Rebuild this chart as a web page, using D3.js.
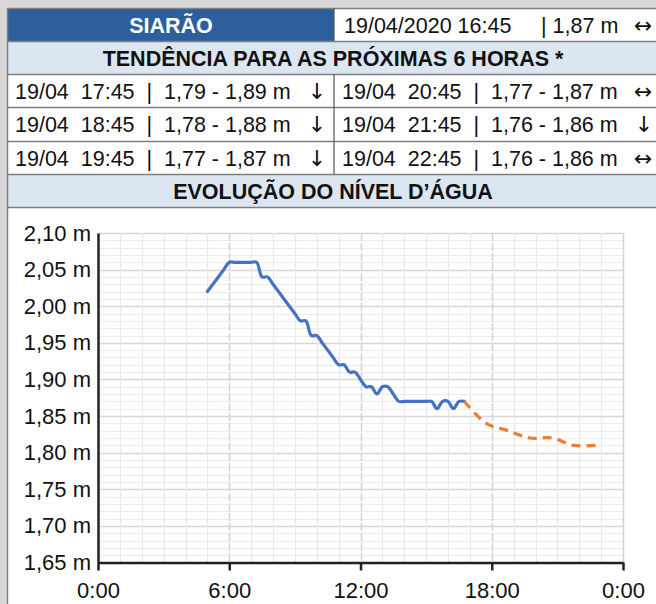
<!DOCTYPE html>
<html><head><meta charset="utf-8">
<script src="https://cdn.jsdelivr.net/npm/d3@7"></script>
<style>
html,body{margin:0;padding:0;background:#d9d9d9;}
svg{display:block;font-family:"Liberation Sans",Arial,sans-serif;}
</style></head>
<body>
<svg id="c" width="656" height="604"></svg>
<script>
// ---- data ----
const station = "SIARÃO";
const currentReading = ["19/04/2020 16:45", "| 1,87 m", "↔"];
const forecastTitle = "TENDÊNCIA PARA AS PRÓXIMAS 6 HORAS *";
const chartTitle = "EVOLUÇÃO DO NÍVEL D’ÁGUA";
const forecastLeft = [
  ["19/04", "17:45", "1,79 - 1,89 m", "↓"],
  ["19/04", "18:45", "1,78 - 1,88 m", "↓"],
  ["19/04", "19:45", "1,77 - 1,87 m", "↓"]
];
const forecastRight = [
  ["19/04", "20:45", "1,77 - 1,87 m", "↔"],
  ["19/04", "21:45", "1,76 - 1,86 m", "↓"],
  ["19/04", "22:45", "1,76 - 1,86 m", "↔"]
];
const obsTimes = ["05:00","05:15","05:30","05:45","06:00","06:15","06:30","06:45",
  "07:00","07:15","07:30","07:45","08:00","08:15","08:30","08:45",
  "09:00","09:15","09:30","09:45","10:00","10:15","10:30","10:45",
  "11:00","11:15","11:30","11:45","12:00","12:15","12:30","12:45",
  "13:00","13:15","13:30","13:45","14:00","14:15","14:30","14:45",
  "15:00","15:15","15:30","15:45","16:00","16:15","16:30","16:45"];
const obsLevels = [2.02,2.03,2.04,2.05,2.06,2.06,2.06,2.06,
  2.06,2.06,2.04,2.04,2.03,2.02,2.01,2.00,
  1.99,1.98,1.98,1.96,1.96,1.95,1.94,1.93,
  1.92,1.92,1.91,1.91,1.90,1.89,1.89,1.88,
  1.89,1.89,1.88,1.87,1.87,1.87,1.87,1.87,
  1.87,1.87,1.86,1.87,1.87,1.86,1.87,1.87];
const fcTimes = ["16:45","17:45","18:45","19:45","20:45","21:45","22:45"];
const fcLevels = [1.87,1.84,1.83,1.82,1.82,1.81,1.81];
const yTicks = [1.65,1.70,1.75,1.80,1.85,1.90,1.95,2.00,2.05,2.10];
const xTickHours = [0,6,12,18,24];
const xTickLabels = ["0:00","6:00","12:00","18:00","0:00"];

// ---- layout ----
const svg = d3.select("#c");
const W = 656, H = 604;
const tableX = 8, splitX = 334, tableR = 664;
const rows = [8, 41, 74, 107, 141, 174, 207];
const borderC = "#7f7f7f";
const hdrBlue = "#2c5f9c", lightBlue = "#dce6f1";
const FS = 21.5;

svg.append("rect").attr("width", W).attr("height", H).attr("fill", "#d9d9d9");

// table cells
svg.append("rect").attr("x", tableX).attr("y", rows[0]).attr("width", splitX - tableX).attr("height", rows[1]-rows[0]).attr("fill", hdrBlue);
svg.append("rect").attr("x", splitX).attr("y", rows[0]).attr("width", tableR - splitX).attr("height", rows[1]-rows[0]).attr("fill", "#fff");
svg.append("rect").attr("x", tableX).attr("y", rows[1]).attr("width", tableR - tableX).attr("height", rows[2]-rows[1]).attr("fill", lightBlue);
svg.append("rect").attr("x", tableX).attr("y", rows[2]).attr("width", tableR - tableX).attr("height", rows[5]-rows[2]).attr("fill", "#fff");
svg.append("rect").attr("x", tableX).attr("y", rows[5]).attr("width", tableR - tableX).attr("height", rows[6]-rows[5]).attr("fill", lightBlue);
svg.append("rect").attr("x", tableX).attr("y", rows[6]).attr("width", tableR - tableX).attr("height", H - rows[6]).attr("fill", "#fff");

// borders
rows.forEach(r => svg.append("line").attr("x1", tableX).attr("x2", tableR).attr("y1", r+0.5).attr("y2", r+0.5).attr("stroke", borderC).attr("stroke-width", 1.5));
svg.append("line").attr("x1", tableX-0.5).attr("x2", tableX-0.5).attr("y1", rows[0]).attr("y2", H).attr("stroke", borderC).attr("stroke-width", 1.5);
[[rows[0], rows[1]], [rows[2], rows[5]]].forEach(([a,b]) =>
  svg.append("line").attr("x1", splitX).attr("x2", splitX).attr("y1", a).attr("y2", b).attr("stroke", "#555").attr("stroke-width", 1.2));

const txt = (x, y, s, opts={}) => svg.append("text").attr("x", x).attr("y", y)
  .attr("font-size", opts.size || FS).attr("font-weight", opts.bold ? "bold" : "normal")
  .attr("font-family", opts.family || null)
  .attr("fill", opts.fill || "#111").attr("text-anchor", opts.anchor || "start")
  .attr("xml:space", "preserve").style("white-space", "pre").text(s);
const arrow = (x, y, s) => txt(x, y, s, {anchor: "middle", family: "DejaVu Sans", size: 22});

const base = i => (rows[i] + rows[i+1]) / 2 + 8;
txt((tableX + splitX)/2, base(0), station, {bold: true, fill: "#fff", anchor: "middle"});
txt(344, base(0), currentReading[0]);
txt(541, base(0), currentReading[1]);
arrow(643, base(0), currentReading[2]);
txt(333, base(1), forecastTitle, {bold: true, anchor: "middle"});
forecastLeft.forEach((r, i) => {
  txt(15, base(i+2), `${r[0]}  ${r[1]}  |  ${r[2]}`);
  arrow(317, base(i+2), r[3]);
});
forecastRight.forEach((r, i) => {
  txt(342, base(i+2), `${r[0]}  ${r[1]}  |  ${r[2]}`);
  arrow(r[3] === "↓" ? 644 : 643, base(i+2), r[3]);
});
txt(333, base(5), chartTitle, {bold: true, anchor: "middle"});

// ---- chart ----
const px0 = 98, px1 = 623, py0 = 562.5, py1 = 233;
const toH = s => { const [h, m] = s.split(":").map(Number); return h + m/60; };
const x = d3.scaleLinear().domain([0, 24]).range([px0, px1]);
const y = d3.scaleLinear().domain([1.65, 2.10]).range([py0, py1]);

const g = svg.append("g");
// minor horizontal grid every 0.01
const yMinor = d3.range(165, 211).map(v => v / 100);
g.selectAll(".hm").data(yMinor).join("line")
  .attr("x1", px0).attr("x2", px1).attr("y1", d => Math.round(y(d))+0.5).attr("y2", d => Math.round(y(d))+0.5)
  .attr("stroke", d => (Math.round(d*100) % 5 === 0) ? "#d6d6d6" : "#ececec").attr("stroke-width", d => (Math.round(d*100) % 5 === 0) ? 1.5 : 1.2);
// vertical grid every hour
g.selectAll(".vm").data(d3.range(1, 25)).join("line")
  .attr("y1", py1).attr("y2", py0).attr("x1", d => Math.round(x(d))+0.5).attr("x2", d => Math.round(x(d))+0.5)
  .attr("stroke", d => d % 6 === 0 ? "#d2d2d2" : "#e8e8e8").attr("stroke-width", d => d % 6 === 0 ? 1.5 : 1.2)
  .attr("stroke-dasharray", d => d % 6 === 0 && d < 24 ? "8,2" : null);

// axes
const xAxis = d3.axisBottom(x).tickValues(xTickHours).tickFormat((d, i) => xTickLabels[i]).tickSize(8).tickSizeOuter(0).tickPadding(8);
const gx = svg.append("g").attr("transform", `translate(0,${py0})`).call(xAxis);
gx.select(".domain").attr("stroke", "#222").attr("stroke-width", 2.5);
gx.selectAll(".tick line").attr("stroke", "#222").attr("stroke-width", 2.5);
gx.selectAll("text").attr("font-size", 22).attr("fill", "#111").attr("font-family", "Liberation Sans, Arial, sans-serif").attr("dy", "0.9em");

const yAxis = d3.axisLeft(y).tickValues(yTicks).tickFormat(d => d3.format(".2f")(d).replace(".", ",") + " m").tickSize(0).tickPadding(7);
const gy = svg.append("g").attr("transform", `translate(${px0},0)`).call(yAxis);
gy.select(".domain").attr("stroke", "#222").attr("stroke-width", 2.5);
gy.selectAll("text").attr("font-size", 22).attr("fill", "#111").attr("font-family", "Liberation Sans, Arial, sans-serif");

// lines
const line = d3.line().x(d => x(d[0])).y(d => y(d[1])).curve(d3.curveCatmullRom.alpha(0.5));
const obs = obsTimes.map((t, i) => [toH(t), obsLevels[i]]);
const fc = fcTimes.map((t, i) => [toH(t), fcLevels[i]]);
svg.append("path").datum(obs).attr("d", line).attr("fill", "none").attr("stroke", "#4472c4").attr("stroke-width", 3.2).attr("stroke-linejoin", "round").attr("stroke-linecap", "round");
svg.append("path").datum(fc).attr("d", line).attr("fill", "none").attr("stroke", "#ed7d31").attr("stroke-width", 3.2).attr("stroke-dasharray", "9,6");
</script>
</body></html>
